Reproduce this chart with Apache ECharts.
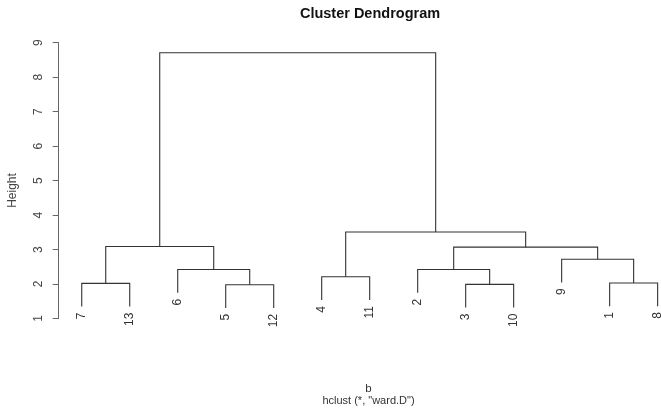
<!DOCTYPE html>
<html>
<head>
<meta charset="utf-8">
<script src="https://cdn.jsdelivr.net/npm/echarts@6/dist/echarts.min.js"></script>
<style>
html,body{margin:0;padding:0;background:#fff;}
#chart{width:661px;height:410px;}
</style>
</head>
<body>
<div id="chart"></div>
<script>
// Leaf labels in dendrogram order (positions 1..13)
var leafLabels = ['7', '13', '6', '5', '12', '4', '11', '2', '3', '10', '9', '1', '8'];
// Merge steps (R hclust style): negative = leaf position, positive = earlier merge step
var mergeLeft  = [-4, -9, -1, -12, -6, -3, -8, -11, 7, 3, 5, 10];
var mergeRight = [-5, -10, -2, -13, -7, 1, 2, 4, 8, 6, 9, 11];
var mergeHeight = [1.98, 1.99, 2.02, 2.03, 2.21, 2.42, 2.42, 2.72, 3.07, 3.09, 3.51, 8.71];
var yTicks = [1, 2, 3, 4, 5, 6, 7, 8, 9];

var titleText = 'Cluster Dendrogram';
var yName = 'Height';
var xName = 'b';
var subText = 'hclust (*, "ward.D")';

// R dendrogram: leaves hang 0.1 * height range below their parent
var hMax = Math.max.apply(null, mergeHeight), hMin = Math.min.apply(null, mergeHeight);
var hang = 0.1 * (hMax - hMin);

var nodeX = [];
function childX(c) { return c < 0 ? -c : nodeX[c - 1]; }
var mergeData = [];
var leafData = [];
for (var i = 0; i < mergeHeight.length; i++) {
  var l = mergeLeft[i], r = mergeRight[i], h = mergeHeight[i];
  var xl = childX(l), xr = childX(r);
  nodeX.push((xl + xr) / 2);
  var bl = l < 0 ? h - hang : mergeHeight[l - 1];
  var br = r < 0 ? h - hang : mergeHeight[r - 1];
  mergeData.push([xl, bl, xr, br, h]);
  if (l < 0) leafData.push([xl, bl, leafLabels[xl - 1]]);
  if (r < 0) leafData.push([xr, br, leafLabels[xr - 1]]);
}

var chart = echarts.init(document.getElementById('chart'), null, {renderer: 'canvas'});
var FONT = '"Liberation Sans", Arial, sans-serif';
var lineColor = '#333';

chart.setOption({
  backgroundColor: '#fff',
  animation: false,
  grid: {left: 58.7, right: 0, top: 42.7, bottom: 91.5, containLabel: false},
  xAxis: {
    type: 'value', min: 0.52, max: 13.07, show: false
  },
  yAxis: {
    type: 'value', min: 1, max: 9, interval: 1,
    axisLine: {show: true, lineStyle: {color: '#666', width: 1}},
    axisTick: {show: true, inside: false, length: 6, lineStyle: {color: '#666'}},
    splitLine: {show: false},
    axisLabel: {
      rotate: 90, margin: 14, color: '#444', fontFamily: FONT, fontSize: 12,
      formatter: function (v) { return yTicks.indexOf(v) >= 0 ? String(v) : ''; }
    }
  },
  graphic: [
    {type: 'text', x: 370, y: 14, style: {text: titleText, font: 'bold 14.5px ' + FONT, fill: '#111', align: 'center', verticalAlign: 'middle'}},
    {type: 'text', x: 13, y: 190.5, rotation: Math.PI / 2, style: {text: yName, font: '12px ' + FONT, fill: '#444', align: 'center', verticalAlign: 'middle'}},
    {type: 'text', x: 368.5, y: 389.3, style: {text: xName, font: '11.5px ' + FONT, fill: '#333', align: 'center', verticalAlign: 'middle'}},
    {type: 'text', x: 368.5, y: 401.3, style: {text: subText, font: '11px ' + FONT, fill: '#333', align: 'center', verticalAlign: 'middle'}}
  ],
  series: [
    {
      type: 'custom',
      coordinateSystem: 'cartesian2d',
      clip: false,
      silent: true,
      data: mergeData,
      encode: {x: [0, 2], y: [1, 3, 4]},
      renderItem: function (params, api) {
        var p1 = api.coord([api.value(0), api.value(1)]);
        var p2 = api.coord([api.value(0), api.value(4)]);
        var p3 = api.coord([api.value(2), api.value(4)]);
        var p4 = api.coord([api.value(2), api.value(3)]);
        return {
          type: 'polyline',
          shape: {points: [p1, p2, p3, p4]},
          style: {stroke: lineColor, lineWidth: 1.1, fill: null}
        };
      }
    },
    {
      type: 'custom',
      coordinateSystem: 'cartesian2d',
      clip: false,
      silent: true,
      data: leafData,
      encode: {x: 0, y: 1},
      renderItem: function (params, api) {
        var p = api.coord([api.value(0), api.value(1)]);
        return {
          type: 'text',
          x: p[0], y: p[1] + 6,
          rotation: Math.PI / 2,
          style: {
            text: leafData[params.dataIndex][2],
            font: '12px ' + FONT, fill: '#333',
            align: 'right', verticalAlign: 'middle'
          }
        };
      }
    }
  ]
});
</script>
</body>
</html>
